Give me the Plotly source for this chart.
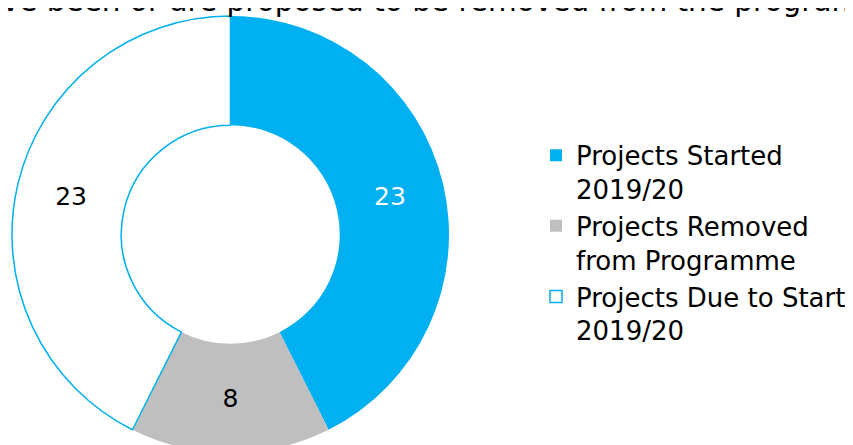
import plotly.graph_objects as go

# slice data
labels = [
    "Projects Started<br>2019/20",
    "Projects Removed<br>from Programme",
    "Projects Due to Start<br>2019/20",
]
values = [23, 8, 23]
colors = ["#00B0F0", "#BFBFBF", "#FFFFFF"]
line_colors = ["#00B0F0", "#BFBFBF", "#00B0F0"]
line_widths = [0, 0, 1.5]
text_colors = ["#FFFFFF", "#000000", "#000000"]

title_text = "have been or are proposed to be removed from the programme"

FONT = "DejaVu Sans, Verdana, sans-serif"

fig = go.Figure()

fig.add_trace(
    go.Pie(
        labels=labels,
        values=values,
        hole=0.5,
        sort=False,
        direction="clockwise",
        rotation=0,
        textinfo="value",
        textposition="inside",
        insidetextorientation="horizontal",
        textfont=dict(family=FONT, size=25, color=text_colors),
        marker=dict(colors=colors, line=dict(color=line_colors, width=line_widths)),
        domain=dict(x=[0, 445 / 853], y=[0, 1]),
        showlegend=True,
    )
)

# title sits partly above the visible area, as in the source image
fig.add_annotation(
    text=title_text,
    xref="paper",
    yref="paper",
    x=-0.0527,
    y=1,
    xanchor="left",
    yanchor="bottom",
    yshift=-4,
    showarrow=False,
    font=dict(family=FONT, size=29.5, color="#000000"),
)

fig.update_layout(
    width=853,
    height=445,
    margin=dict(l=0, r=0, t=8, b=0),
    paper_bgcolor="white",
    plot_bgcolor="white",
    font=dict(family=FONT, color="#000000"),
    legend=dict(
        x=528 / 853,
        y=0.735,
        xanchor="left",
        yanchor="top",
        valign="top",
        font=dict(family=FONT, size=26, color="#000000"),
        bgcolor="rgba(0,0,0,0)",
    ),
)

fig.write_html("out.html")
